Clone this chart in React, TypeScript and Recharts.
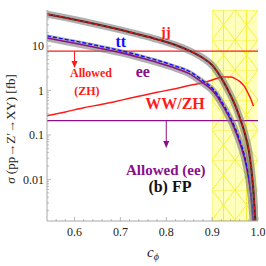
import React from 'react';
import {
  ComposedChart,
  Line,
  XAxis,
  YAxis,
  ReferenceLine,
  ReferenceArea,
  ReferenceDot,
} from 'recharts';

// c_phi sample points and cross sections [fb]
const cphi = [0.54, 0.58, 0.62, 0.66, 0.7, 0.74, 0.78, 0.82, 0.85, 0.88, 0.9, 0.91, 0.92, 0.94, 0.95, 0.96, 0.97, 0.98, 0.985, 0.99, 0.994];
const sigmaJJ = [52, 43.3, 35.5, 28.8, 23.1, 18.2, 14.1, 10.5, 7.85, 5.37, 3.72, 2.75, 1.9, 0.79, 0.47, 0.25, 0.12, 0.044, 0.019, 0.0056, 0.0012];
const sigmaTT = [16.9, 14.1, 11.8, 9.7, 7.9, 6.2, 4.8, 3.54, 2.7, 1.66, 1.14, 0.85, 0.58, 0.246, 0.145, 0.077, 0.036, 0.0112, 0.0045, 0.00112, null];
const sigmaEE = [15.1, 12.6, 10.5, 8.7, 7.1, 5.56, 4.27, 3.16, 2.4, 1.48, 1.02, 0.76, 0.52, 0.22, 0.129, 0.069, 0.032, 0.01, 0.004, 0.001, null];
const sigmaWW = [0.27, 0.33, 0.41, 0.49, 0.6, 0.74, 0.91, 1.1, 1.29, 1.5, 1.72, 1.86, 2.0, 2.0, 1.85, 1.6, 1.25, 0.8, 0.62, 0.45, null];

// experimental limits
const limitZH = 7.7;
const limitEE = 0.21;
const excludedFrom = 0.9;

const xMajor = [0.6, 0.7, 0.8, 0.9, 1.0];
const xMinor = [0.56, 0.58, 0.62, 0.64, 0.66, 0.68, 0.72, 0.74, 0.76, 0.78, 0.82, 0.84, 0.86, 0.88, 0.92, 0.94, 0.96, 0.98];
const yMajor = [0.01, 0.1, 1, 10];
const yMinor = [
  0.002, 0.003, 0.004, 0.005, 0.006, 0.007, 0.008, 0.009,
  0.02, 0.03, 0.04, 0.05, 0.06, 0.07, 0.08, 0.09,
  0.2, 0.3, 0.4, 0.5, 0.6, 0.7, 0.8, 0.9,
  2, 3, 4, 5, 6, 7, 8, 9, 20, 30, 40, 50, 60,
];

const data = cphi.map((c, i) => ({
  c,
  jj: sigmaJJ[i],
  tt: sigmaTT[i],
  ee: sigmaEE[i],
  ww: sigmaWW[i],
}));

const RED = '#ff1a1a';
const PURPLE = '#8a108a';
const BLUE = '#1010ff';
const FRAME = '#a8a8a8';
const SERIF = '"Liberation Serif", "DejaVu Serif", serif';
const serif = { fontFamily: SERIF };

const isMajor = (list: number[], v: number) => list.some(m => Math.abs(m - v) < 1e-9);

// ticks drawn inward, like a Mathematica frame
const tickFor = (side: 'bottom' | 'top' | 'left' | 'right') => (props: any) => {
  const { x, y, payload } = props;
  const v = payload.value as number;
  const major = isMajor(side === 'bottom' || side === 'top' ? xMajor : yMajor, v);
  const len = major ? 4 : 2;
  if (side === 'bottom') {
    return (
      <g>
        <line x1={x} y1={y} x2={x} y2={y - len} stroke={FRAME} strokeWidth={0.8} />
        {major && (
          <text x={x} y={y + 15} textAnchor="middle" style={serif} fontSize={12} fill="#222">
            {v.toFixed(1)}
          </text>
        )}
      </g>
    );
  }
  if (side === 'top') {
    return <line x1={x} y1={y} x2={x} y2={y + len} stroke={FRAME} strokeWidth={0.8} />;
  }
  if (side === 'left') {
    return (
      <g>
        <line x1={x} y1={y} x2={x + len} y2={y} stroke={FRAME} strokeWidth={0.8} />
        {major && (
          <text x={x - 3} y={y + 4} textAnchor="end" style={serif} fontSize={12} fill="#222">
            {String(v)}
          </text>
        )}
      </g>
    );
  }
  return <line x1={x} y1={y} x2={x - len} y2={y} stroke={FRAME} strokeWidth={0.8} />;
};

const note = (text: string, color: string, size: number) => (p: any) => (
  <text
    x={p.cx}
    y={p.cy}
    textAnchor="middle"
    dominantBaseline="central"
    style={serif}
    fontWeight="bold"
    fontSize={size}
    fill={color}
  >
    {text}
  </text>
);

const arrowHead = (color: string) => (p: any) => (
  <polygon points={`${p.cx - 3},${p.cy - 7} ${p.cx + 3},${p.cy - 7} ${p.cx},${p.cy}`} fill={color} />
);

const App: React.FC = () => {
  const xDomain = [0.54, 1.0];
  const yDomain = [0.00117, 64.4];
  return (
    <div style={{ position: 'absolute', left: 0, top: 0, width: 266, height: 266, background: '#fff' }}>
      <svg width={0} height={0} style={{ position: 'absolute' }}>
        <defs>
          <pattern id="hatch" patternUnits="userSpaceOnUse" x={212} y={10} width={23} height={30}>
            <rect width={23} height={30} fill="#ffffbc" />
            <path
              d="M0 0L23 30M23 0L0 30M0 0V30M11.5 0V30M0 0H23"
              stroke="#f4ec2c"
              strokeWidth={0.9}
              fill="none"
            />
          </pattern>
        </defs>
      </svg>
      <ComposedChart
        width={266}
        height={266}
        data={data}
        margin={{ top: 10, right: 8, bottom: 0, left: 0 }}
      >
        <XAxis
          dataKey="c"
          type="number"
          domain={xDomain}
          allowDataOverflow
          ticks={[...xMajor, ...xMinor]}
          interval={0}
          tickSize={0}
          tickMargin={0}
          tickLine={false}
          tick={tickFor('bottom')}
          axisLine={{ stroke: FRAME }}
          height={45}
          label={{
            content: () => (
              <text x={147} y={257} style={serif} fill="#222">
                <tspan fontStyle="italic" fontSize={15}>c</tspan>
                <tspan fontStyle="italic" fontSize={10} dy={3}>ϕ</tspan>
              </text>
            ),
          }}
        />
        <XAxis
          xAxisId="top"
          dataKey="c"
          type="number"
          orientation="top"
          domain={xDomain}
          allowDataOverflow
          ticks={[...xMajor, ...xMinor]}
          interval={0}
          tickSize={0}
          tickMargin={0}
          tickLine={false}
          tick={tickFor('top')}
          axisLine={{ stroke: FRAME }}
          height={0}
        />
        <YAxis
          scale="log"
          type="number"
          domain={yDomain}
          allowDataOverflow
          ticks={[...yMajor, ...yMinor]}
          interval={0}
          tickSize={0}
          tickMargin={0}
          tickLine={false}
          tick={tickFor('left')}
          axisLine={{ stroke: FRAME }}
          width={47}
          label={{
            content: () => (
              <text
                transform="translate(15,129) rotate(-90)"
                textAnchor="middle"
                style={serif}
                fontSize={13}
                fill="#222"
              >
                <tspan fontStyle="italic">σ</tspan> (pp→Z′→XY) [fb]
              </text>
            ),
          }}
        />
        <YAxis
          yAxisId="right"
          orientation="right"
          scale="log"
          type="number"
          domain={yDomain}
          allowDataOverflow
          ticks={[...yMajor, ...yMinor]}
          interval={0}
          tickSize={0}
          tickMargin={0}
          tickLine={false}
          tick={tickFor('right')}
          axisLine={{ stroke: FRAME }}
          width={0}
        />

        {/* region excluded by other constraints */}
        <ReferenceArea x1={excludedFrom} x2={1.0} y1={yDomain[0]} y2={yDomain[1]} fill="url(#hatch)" fillOpacity={1} stroke="none" ifOverflow="visible" />

        <ReferenceLine y={limitZH} stroke={RED} strokeWidth={1.3} />
        <ReferenceLine y={limitEE} stroke={PURPLE} strokeWidth={1.3} />

        {/* WW/ZH */}
        <Line dataKey="ww" type="monotone" stroke={RED} strokeWidth={1.5} dot={false} isAnimationActive={false} />

        {/* ee / tt band */}
        <Line key="eeBand" dataKey="ee" type="monotone" stroke="#7a7a7a" strokeOpacity={0.6} strokeWidth={7} dot={false} isAnimationActive={false} />
        <Line key="eeLine" dataKey="ee" type="monotone" stroke={PURPLE} strokeWidth={1.6} dot={false} isAnimationActive={false} />
        <Line dataKey="tt" type="monotone" stroke={BLUE} strokeWidth={1.4} strokeDasharray="4 2" dot={false} isAnimationActive={false} />

        {/* jj band */}
        <Line key="jjBand" dataKey="jj" type="monotone" stroke="#7a7a7a" strokeOpacity={0.6} strokeWidth={7} dot={false} isAnimationActive={false} />
        <Line key="jjCore" dataKey="jj" type="monotone" stroke="#4a2222" strokeWidth={2} dot={false} isAnimationActive={false} />
        <Line key="jjDash" dataKey="jj" type="monotone" stroke="#d01818" strokeWidth={1.3} strokeDasharray="4 2" dot={false} isAnimationActive={false} />

        {/* arrows pointing into allowed regions */}
        <ReferenceLine segment={[{ x: 0.6, y: limitZH }, { x: 0.6, y: 3.6 }]} stroke={RED} strokeWidth={1} />
        <ReferenceDot x={0.6} y={3.2} r={0} shape={arrowHead(RED)} />
        <ReferenceLine segment={[{ x: 0.8, y: limitEE }, { x: 0.8, y: 0.06 }]} stroke={PURPLE} strokeWidth={1} />
        <ReferenceDot x={0.8} y={0.051} r={0} shape={arrowHead(PURPLE)} />

        <ReferenceDot x={0.799} y={20.7} r={0} shape={note('jj', RED, 15)} />
        <ReferenceDot x={0.701} y={12.9} r={0} shape={note('tt', BLUE, 16)} />
        <ReferenceDot x={0.749} y={2.74} r={0} shape={note('ee', PURPLE, 16)} />
        <ReferenceDot x={0.636} y={2.47} r={0} shape={note('Allowed', RED, 12)} />
        <ReferenceDot x={0.627} y={0.975} r={0} shape={note('(ZH)', RED, 12)} />
        <ReferenceDot x={0.819} y={0.5} r={0} shape={note('WW/ZH', RED, 16)} />
        <ReferenceDot x={0.799} y={0.0163} r={0} shape={note('Allowed (ee)', PURPLE, 15)} />
        <ReferenceDot x={0.808} y={0.0068} r={0} shape={note('(b) FP', '#111', 16)} />
      </ComposedChart>
    </div>
  );
};

export default App;
